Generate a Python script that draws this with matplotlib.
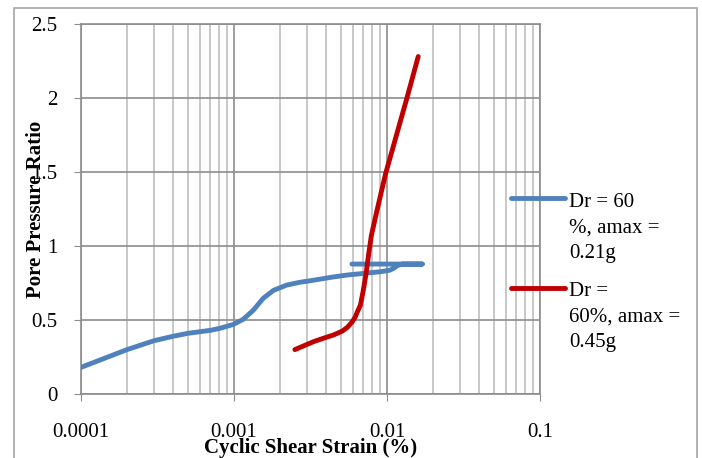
import numpy as np
import matplotlib
matplotlib.use('Agg')
import matplotlib.pyplot as plt
from matplotlib.lines import Line2D
from matplotlib.patches import Rectangle
from matplotlib.legend_handler import HandlerLine2D
from matplotlib.ticker import LogLocator, FixedLocator, NullFormatter

plt.rcParams['font.family'] = ['Liberation Serif', 'DejaVu Serif']

# data
strain_a = [0.0001, 0.0002, 0.0003, 0.0004, 0.0005, 0.0007, 0.00081, 0.00099,
            0.00115, 0.00134, 0.00155, 0.00181, 0.00221, 0.0027, 0.0031, 0.0036,
            0.0044, 0.0055, 0.0074, 0.009, 0.0104, 0.0111, 0.0117, 0.0126,
            0.017, 0.0059]
ratio_a = [0.18, 0.30, 0.36, 0.39, 0.41, 0.43, 0.444, 0.47,
           0.505, 0.567, 0.646, 0.70, 0.736, 0.755, 0.764, 0.775,
           0.79, 0.804, 0.817, 0.826, 0.836, 0.85, 0.868, 0.878,
           0.878, 0.878]

strain_b = [0.0025, 0.0033, 0.0038, 0.0045, 0.0051, 0.0055, 0.0059, 0.0062,
            0.0064, 0.0067, 0.007, 0.0073, 0.0076, 0.0079, 0.0086, 0.0098,
            0.0135, 0.016]
ratio_b = [0.30, 0.353, 0.375, 0.40, 0.425, 0.45, 0.485, 0.52,
           0.555, 0.60, 0.70, 0.815, 0.95, 1.07, 1.24, 1.49,
           2.0, 2.28]

label_a = 'Dr = 60\n%, amax =\n0.21g'
label_b = 'Dr =\n60%, amax =\n0.45g'

x_ticks = [0.0001, 0.001, 0.01, 0.1]
x_ticklabels = ['0.0001', '0.001', '0.01', '0.1']
y_ticks = [0, 0.5, 1, 1.5, 2, 2.5]
y_ticklabels = ['0', '0.5', '1', '1.5', '2', '2.5']


class TopLine(HandlerLine2D):
    # put the sample line next to the first text line, like Excel does
    def create_artists(self, legend, orig_handle, xdescent, ydescent,
                       width, height, fontsize, trans):
        arts = super().create_artists(legend, orig_handle, xdescent, ydescent,
                                      width, height, fontsize, trans)
        for a in arts:
            yd = np.full(len(a.get_xdata()), height - ydescent + 0.13 * fontsize)
            a.set_ydata(yd)
        return arts


fig = plt.figure(figsize=(7.02, 4.58), dpi=100)
ax = fig.add_axes([81 / 702, 1 - 394 / 458, 459 / 702, 370 / 458])

ax.plot(strain_a, ratio_a, color='#4F81BD', lw=3.5, solid_capstyle='round',
        solid_joinstyle='round', label=label_a, zorder=3)
ax.plot(strain_b, ratio_b, color='#C00000', lw=3.5, solid_capstyle='round',
        solid_joinstyle='round', label=label_b, zorder=4)

ax.set_xscale('log')
ax.set_xlim(0.0001, 0.1)
ax.set_ylim(0, 2.5)
ax.xaxis.set_major_locator(FixedLocator(x_ticks))
ax.set_xticklabels(x_ticklabels)
ax.xaxis.set_minor_locator(LogLocator(base=10, subs=np.arange(2, 10)))
ax.xaxis.set_minor_formatter(NullFormatter())
ax.set_yticks(y_ticks)
ax.set_yticklabels(y_ticklabels)

ax.grid(True, which='major', color='#8c8c8c', lw=1.2)
ax.grid(True, which='minor', axis='x', color='#bfbfbf', lw=1.2)
ax.set_axisbelow(True)

for s in ax.spines.values():
    s.set_color('#8c8c8c')
    s.set_linewidth(1.2)

ax.tick_params(axis='x', which='major', length=5, color='#8c8c8c', pad=16,
               labelsize=15)
ax.tick_params(axis='x', which='minor', length=0)
ax.tick_params(axis='y', length=5, color='#8c8c8c', pad=12, labelsize=15)

ax.set_xlabel('Cyclic Shear Strain (%)', fontsize=15, fontweight='bold')
ax.xaxis.set_label_coords(0.5, -0.12)
ax.set_ylabel('Pore Pressure Ratio', fontsize=15, fontweight='bold')
ax.yaxis.set_label_coords(-0.077, 0.5)

leg = ax.legend(loc='upper left', bbox_to_anchor=(511 / 702, 1 - 193 / 458),
                bbox_transform=fig.transFigure, frameon=False, fontsize=15,
                handlelength=2.6, handletextpad=0.2, handleheight=3.8,
                labelspacing=0.95, borderpad=0, borderaxespad=0,
                handler_map={Line2D: TopLine()})
for t in leg.get_texts():
    t.set_linespacing(1.45)

# outer frame of the chart area
fig.patches.append(Rectangle((14 / 702, -0.05), 683 / 702, 1.05 - 8 / 458,
                             transform=fig.transFigure, fill=False,
                             edgecolor='#a6a6a6', lw=1.2))

fig.savefig('out.png', dpi=100)
